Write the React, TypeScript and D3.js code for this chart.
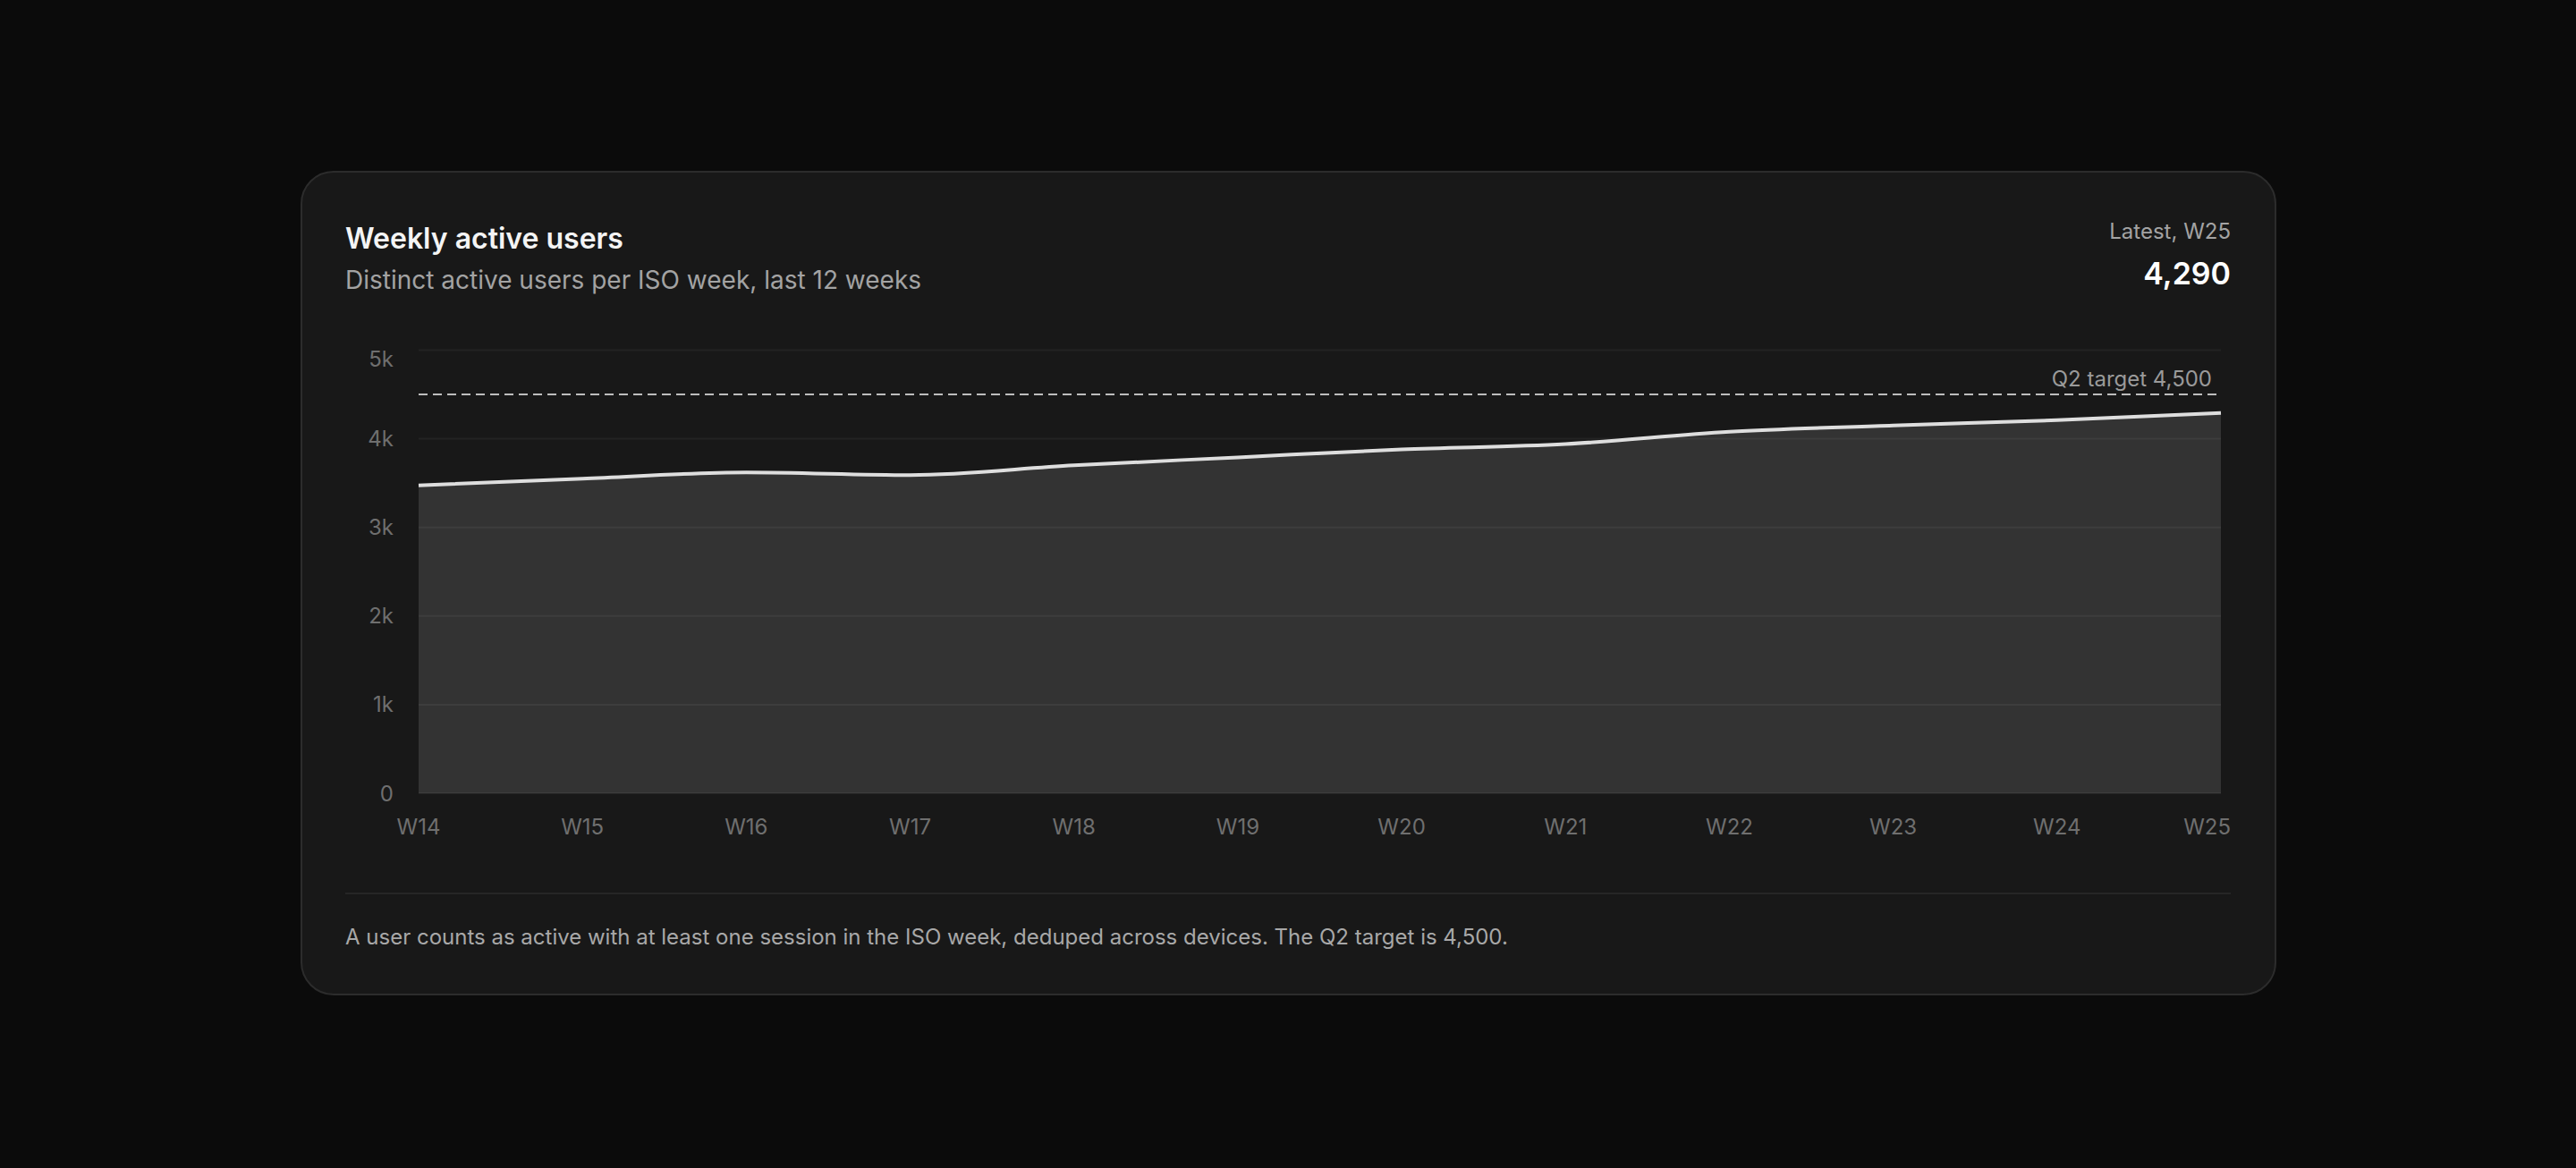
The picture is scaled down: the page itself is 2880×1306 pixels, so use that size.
import { useEffect } from 'react';
import * as d3 from 'd3';

const weeks = ['W14', 'W15', 'W16', 'W17', 'W18', 'W19', 'W20', 'W21', 'W22', 'W23', 'W24', 'W25'];
const activeUsers = [3475, 3550, 3620, 3590, 3700, 3790, 3880, 3940, 4080, 4150, 4210, 4290];
const yTicks = [0, 1000, 2000, 3000, 4000, 5000];
const yTickLabels = ['0', '1k', '2k', '3k', '4k', '5k'];
const targetValue = 4500;

const FONT = 'Inter, "Noto Sans", sans-serif';

export default function App() {
  useEffect(() => {
    document.body.style.margin = '0';
    document.body.style.background = '#0b0b0b';
  }, []);

  const W = 2880;
  const H = 1306;

  // card + content box
  const card = { x: 337, y: 192, w: 2207, h: 920 };
  const content = { left: 386, right: 2494 };
  const plot = { left: 468, right: 2483, top: 391.5, bottom: 887 };

  const x = d3
    .scalePoint<string>()
    .domain(weeks)
    .range([plot.left, plot.right]);
  const y = d3.scaleLinear().domain([0, 5000]).range([plot.bottom, plot.top]);

  const pts = weeks.map((w, i) => ({ w, v: activeUsers[i] }));
  const line = d3
    .line<{ w: string; v: number }>()
    .x((d) => x(d.w)!)
    .y((d) => y(d.v))
    .curve(d3.curveMonotoneX);
  const area = d3
    .area<{ w: string; v: number }>()
    .x((d) => x(d.w)!)
    .y0(y(0))
    .y1((d) => y(d.v))
    .curve(d3.curveMonotoneX);

  const latest = activeUsers[activeUsers.length - 1];

  return (
    <div style={{ position: 'absolute', left: 0, top: 0, width: W, height: H, background: '#0b0b0b' }}>
      <svg width={W} height={H} style={{ display: 'block', fontFamily: FONT }}>
        <rect width={W} height={H} fill="#0b0b0b" />
        <rect
          x={card.x}
          y={card.y}
          width={card.w}
          height={card.h}
          rx={36}
          fill="#181818"
          stroke="#2c2c2c"
          strokeWidth={2}
        />

        {/* header */}
        <text x={content.left} y={278} fontSize={32} fontWeight={600} fill="#f4f4f4">
          Weekly active users
        </text>
        <text x={content.left} y={323} fontSize={28} fill="#a3a3a3">
          Distinct active users per ISO week, last 12 weeks
        </text>
        <text x={content.right} y={266.5} fontSize={24} textAnchor="end" fill="#a3a3a3">
          Latest, {weeks[weeks.length - 1]}
        </text>
        <text x={content.right} y={317.5} fontSize={34} fontWeight={600} textAnchor="end" fill="#ffffff">
          {d3.format(',')(latest)}
        </text>

        {/* area + grid */}
        <path d={area(pts) ?? ''} fill="#333333" />
        {yTicks.map((t) => (
          <line
            key={t}
            x1={plot.left}
            x2={plot.right}
            y1={y(t)}
            y2={y(t)}
            stroke="rgba(255,255,255,0.05)"
            strokeWidth={2}
          />
        ))}
        {yTicks.map((t, i) => (
          <text
            key={'yl' + t}
            x={440}
            y={Math.max(y(t), 401)}
            fontSize={24}
            textAnchor="end"
            dominantBaseline="central"
            fill="#6f6f6f"
          >
            {yTickLabels[i]}
          </text>
        ))}

        {/* target */}
        <line
          x1={plot.left}
          x2={plot.right - 4}
          y1={y(targetValue)}
          y2={y(targetValue)}
          stroke="#bdbdbd"
          strokeWidth={2}
          strokeDasharray="10 6"
        />
        <text x={2473} y={y(targetValue) - 9.5} fontSize={24} textAnchor="end" fill="#9a9a9a">
          Q2 target {d3.format(',')(targetValue)}
        </text>

        <path d={line(pts) ?? ''} fill="none" stroke="#dedede" strokeWidth={4} />

        {/* x labels */}
        {weeks.map((w, i) => {
          const last = i === weeks.length - 1;
          return (
            <text
              key={w}
              x={last ? content.right : x(w)}
              y={plot.bottom + 37.5}
              fontSize={24}
              textAnchor={last ? 'end' : 'middle'}
              dominantBaseline="central"
              fill="#6f6f6f"
            >
              {w}
            </text>
          );
        })}

        {/* footer */}
        <line x1={content.left} x2={content.right} y1={999} y2={999} stroke="#262626" strokeWidth={2} />
        <text x={content.left} y={1055.5} fontSize={24} fill="#a8a8a8">
          A user counts as active with at least one session in the ISO week, deduped across devices. The Q2 target is 4,500.
        </text>
      </svg>
    </div>
  );
}
